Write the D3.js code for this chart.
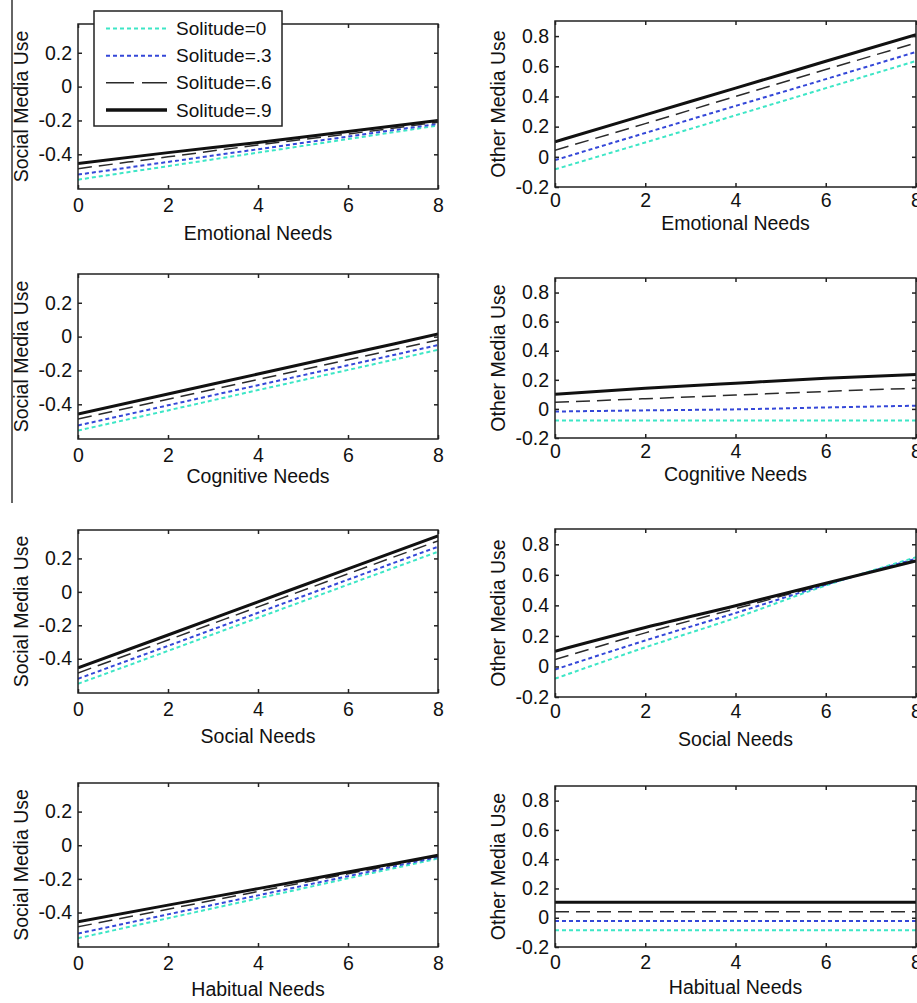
<!DOCTYPE html>
<html>
<head>
<meta charset="utf-8">
<script src="https://cdn.jsdelivr.net/npm/d3@7"></script>
<style>
  body { margin: 0; background: #fff; }
  svg { display: block; }
  text { font-family: "Liberation Sans", Arial, sans-serif; fill: #111; }
</style>
</head>
<body>
<div id="chart"></div>
<script>
// x values where each line was read
const xValues = [0, 2, 4, 6, 8];
const xTicks = [0, 2, 4, 6, 8];
const socialTicks = [-0.4, -0.2, 0, 0.2];
const otherTicks = [-0.2, 0, 0.2, 0.4, 0.6, 0.8];
const solitudeLabels = ["Solitude=0", "Solitude=.3", "Solitude=.6", "Solitude=.9"];
const needsLabels = ["Emotional Needs", "Cognitive Needs", "Social Needs", "Habitual Needs"];

// one row per solitude level (0, .3, .6, .9)
const emotionalSocial = [
  [-0.55, -0.47, -0.39, -0.31, -0.23],
  [-0.52, -0.445, -0.37, -0.295, -0.22],
  [-0.485, -0.415, -0.345, -0.28, -0.21],
  [-0.455, -0.39, -0.33, -0.265, -0.20]
];
const emotionalOther = [
  [-0.083, 0.095, 0.275, 0.455, 0.635],
  [-0.022, 0.158, 0.337, 0.515, 0.695],
  [0.044, 0.22, 0.40, 0.578, 0.755],
  [0.10, 0.278, 0.455, 0.633, 0.81]
];
const cognitiveSocial = [
  [-0.555, -0.436, -0.316, -0.197, -0.078],
  [-0.525, -0.406, -0.287, -0.169, -0.05],
  [-0.487, -0.37, -0.253, -0.137, -0.02],
  [-0.457, -0.339, -0.221, -0.103, 0.015]
];
const cognitiveOther = [
  [-0.08, -0.08, -0.08, -0.08, -0.08],
  [-0.018, -0.01, -0.003, 0.01, 0.022],
  [0.045, 0.07, 0.095, 0.12, 0.142],
  [0.10, 0.142, 0.177, 0.21, 0.237]
];
const socialSocial = [
  [-0.55, -0.353, -0.155, 0.043, 0.24],
  [-0.52, -0.323, -0.125, 0.073, 0.27],
  [-0.485, -0.288, -0.09, 0.108, 0.305],
  [-0.455, -0.258, -0.06, 0.138, 0.335]
];
const socialOther = [
  [-0.08, 0.125, 0.318, 0.53, 0.715],
  [-0.02, 0.17, 0.35, 0.535, 0.705],
  [0.045, 0.22, 0.378, 0.54, 0.698],
  [0.10, 0.255, 0.398, 0.545, 0.69]
];
const habitualSocial = [
  [-0.553, -0.434, -0.316, -0.197, -0.079],
  [-0.525, -0.411, -0.298, -0.184, -0.07],
  [-0.485, -0.38, -0.275, -0.17, -0.065],
  [-0.455, -0.356, -0.258, -0.159, -0.06]
];
const habitualOther = [
  [-0.085, -0.085, -0.085, -0.085, -0.085],
  [-0.022, -0.022, -0.022, -0.022, -0.022],
  [0.04, 0.04, 0.04, 0.04, 0.04],
  [0.106, 0.106, 0.106, 0.106, 0.106]
];

const width = 917, height = 1003;
const lineStyles = [
  { color: "#3de6c6", width: 2, dash: "4,3", legendDash: "4,3" },
  { color: "#3447d8", width: 2, dash: "4,3", legendDash: "4,3" },
  { color: "#2a2a2a", width: 1.5, dash: "14,7", legendDash: "28,8" },
  { color: "#111", width: 3, dash: null, legendDash: null }
];

const leftBox = { x0: 78, x1: 438 };
const rightBox = { x0: 555, x1: 916 };
const panels = [
  { data: emotionalSocial, need: 0, kind: "social", box: leftBox, top: 24, bottom: 189, pad: 9, labelY: 240 },
  { data: emotionalOther, need: 0, kind: "other", box: rightBox, top: 21, bottom: 187, pad: 6, labelY: 230 },
  { data: cognitiveSocial, need: 1, kind: "social", box: leftBox, top: 274, bottom: 439, pad: 9, labelY: 483 },
  { data: cognitiveOther, need: 1, kind: "other", box: rightBox, top: 278, bottom: 438, pad: 6, labelY: 481 },
  { data: socialSocial, need: 2, kind: "social", box: leftBox, top: 530, bottom: 693, pad: 9, labelY: 743 },
  { data: socialOther, need: 2, kind: "other", box: rightBox, top: 529, bottom: 697, pad: 7, labelY: 746 },
  { data: habitualSocial, need: 3, kind: "social", box: leftBox, top: 783, bottom: 947, pad: 9, labelY: 996 },
  { data: habitualOther, need: 3, kind: "other", box: rightBox, top: 786, bottom: 947, pad: 8, labelY: 994 }
];

const svg = d3.select("#chart").append("svg")
  .attr("width", width)
  .attr("height", height);

// stray frame line at the left edge of the figure
svg.append("line")
  .attr("x1", 12).attr("x2", 12).attr("y1", 0).attr("y2", 503)
  .attr("stroke", "#333").attr("stroke-width", 1.5);

const fmt = d => String(d);

panels.forEach((p, i) => {
  const x = d3.scaleLinear().domain([0, 8]).range([p.box.x0, p.box.x1]);
  const y = p.kind === "social"
    ? d3.scaleLinear().domain([-0.605, 0.37]).range([p.bottom, p.top])
    : d3.scaleLinear().domain([-0.2, 0.9]).range([p.bottom, p.top]);
  const yTicks = p.kind === "social" ? socialTicks : otherTicks;

  const g = svg.append("g");
  const clipId = "clip" + i;
  g.append("clipPath").attr("id", clipId)
    .append("rect")
    .attr("x", p.box.x0).attr("y", p.top)
    .attr("width", p.box.x1 - p.box.x0).attr("height", p.bottom - p.top);

  const line = d3.line()
    .x((d, j) => x(xValues[j]))
    .y(d => y(d))
    .curve(d3.curveMonotoneX);

  g.append("g").attr("clip-path", `url(#${clipId})`)
    .selectAll("path")
    .data(p.data)
    .join("path")
    .attr("d", line)
    .attr("fill", "none")
    .attr("stroke", (d, k) => lineStyles[k].color)
    .attr("stroke-width", (d, k) => lineStyles[k].width)
    .attr("stroke-dasharray", (d, k) => lineStyles[k].dash);

  const styleAxis = sel => {
    sel.select(".domain").remove();
    sel.selectAll(".tick line").attr("stroke", "#222").attr("stroke-width", 1.5);
    sel.selectAll("text").style("font-size", "19.5px").attr("fill", "#111");
  };

  g.append("g").attr("transform", `translate(0,${p.bottom})`)
    .call(d3.axisBottom(x).tickValues(xTicks).tickFormat(fmt).tickSize(-4).tickPadding(p.pad))
    .call(styleAxis);
  g.append("g").attr("transform", `translate(0,${p.top})`)
    .call(d3.axisTop(x).tickValues(xTicks).tickFormat("").tickSize(-4))
    .call(styleAxis);
  g.append("g").attr("transform", `translate(${p.box.x0},0)`)
    .call(d3.axisLeft(y).tickValues(yTicks).tickFormat(fmt).tickSize(-4).tickPadding(6))
    .call(styleAxis);
  g.append("g").attr("transform", `translate(${p.box.x1},0)`)
    .call(d3.axisRight(y).tickValues(yTicks).tickFormat("").tickSize(-4))
    .call(styleAxis);

  g.append("rect")
    .attr("x", p.box.x0).attr("y", p.top)
    .attr("width", p.box.x1 - p.box.x0).attr("height", p.bottom - p.top)
    .attr("fill", "none").attr("stroke", "#222").attr("stroke-width", 1.5);

  g.append("text")
    .attr("x", (p.box.x0 + p.box.x1) / 2)
    .attr("y", p.labelY)
    .attr("text-anchor", "middle")
    .style("font-size", "19.5px")
    .text(needsLabels[p.need]);

  const yLabelX = p.kind === "social" ? 21 : 498;
  g.append("text")
    .attr("transform", `translate(${yLabelX},${(p.top + p.bottom) / 2}) rotate(-90)`)
    .attr("text-anchor", "middle")
    .attr("dy", "0.35em")
    .style("font-size", "19.5px")
    .text(p.kind === "social" ? "Social Media Use" : "Other Media Use");
});

// legend on the first panel
const legend = svg.append("g");
legend.append("rect")
  .attr("x", 94).attr("y", 11).attr("width", 188).attr("height", 115)
  .attr("fill", "#fff").attr("stroke", "#222").attr("stroke-width", 1.5);
const legendY = d3.scalePoint().domain(solitudeLabels).range([28.5, 110]);
solitudeLabels.forEach((lab, k) => {
  const s = lineStyles[k];
  legend.append("line")
    .attr("x1", 106).attr("x2", 167)
    .attr("y1", legendY(lab)).attr("y2", legendY(lab))
    .attr("stroke", s.color)
    .attr("stroke-width", k === 3 ? 3.5 : s.width)
    .attr("stroke-dasharray", s.legendDash);
  legend.append("text")
    .attr("x", 176).attr("y", legendY(lab))
    .attr("dy", "0.35em")
    .style("font-size", "19px")
    .text(lab);
});
</script>
</body>
</html>
